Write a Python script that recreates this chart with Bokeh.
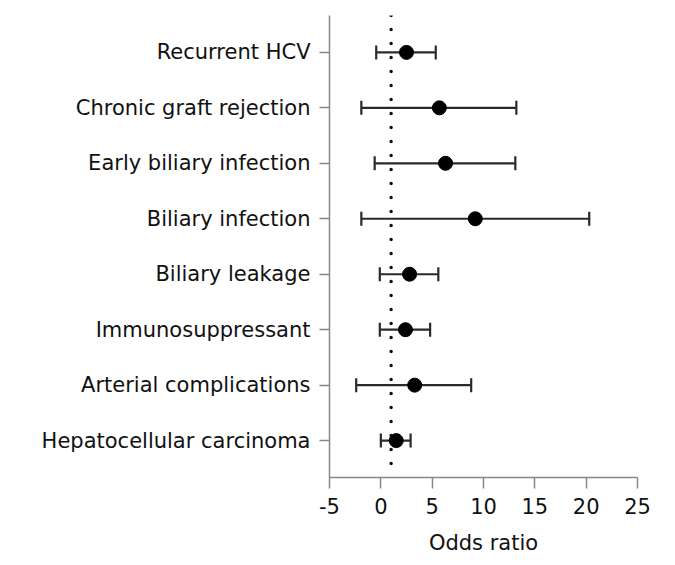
from bokeh.plotting import figure
from bokeh.models import ColumnDataSource, Whisker, TeeHead, Span, FixedTicker, Range1d
from bokeh.embed import file_html
from bokeh.resources import INLINE

categories = ["Recurrent HCV", "Chronic graft rejection", "Early biliary infection",
              "Biliary infection", "Biliary leakage", "Immunosuppressant",
              "Arterial complications", "Hepatocellular carcinoma"]
odds = [2.5, 5.7, 6.3, 9.2, 2.8, 2.4, 3.3, 1.5]
lower = [-0.45, -1.9, -0.6, -1.9, -0.1, -0.1, -2.4, 0.0]
upper = [5.35, 13.2, 13.1, 20.3, 5.6, 4.8, 8.8, 2.9]
x_ticks = [-5, 0, 5, 10, 15, 20, 25]
reference_value = 1

n = len(categories)
ypos = [n - i for i in range(n)]

src = ColumnDataSource(dict(y=ypos, odds=odds, lower=lower, upper=upper))

FONT = "DejaVu Sans"

p = figure(width=667, height=560, output_backend="svg", toolbar_location=None,
           x_range=Range1d(-5, 25), y_range=Range1d(0.335, n + 0.665),
           min_border_left=329, min_border_top=15, min_border_right=30, min_border_bottom=83)
p.outline_line_color = None
p.grid.visible = False
p.background_fill_color = "white"
p.border_fill_color = "white"

# reference line
p.add_layout(Span(location=reference_value, dimension="height", line_color="#111111",
                  line_width=3.5, line_dash="0 14", line_cap="round"))

w = Whisker(source=src, base="y", lower="lower", upper="upper", dimension="width",
            line_color="#2a2a2a", line_width=2.2,
            lower_head=TeeHead(size=14, line_color="#2a2a2a", line_width=2.2),
            upper_head=TeeHead(size=14, line_color="#2a2a2a", line_width=2.2))
p.add_layout(w)

p.scatter(x="odds", y="y", source=src, size=14, marker="circle",
          fill_color="black", line_color="black")

# x axis
p.xaxis.ticker = FixedTicker(ticks=x_ticks)
p.xaxis.major_label_overrides = {t: str(t) for t in x_ticks}
p.xaxis.minor_tick_line_color = None
p.xaxis.major_tick_in = 0
p.xaxis.major_tick_out = 11
p.xaxis.axis_line_color = "#888888"
p.xaxis.major_tick_line_color = "#888888"
p.xaxis.axis_line_width = 1.5
p.xaxis.major_tick_line_width = 1.5
p.xaxis.major_label_text_font = FONT
p.xaxis.major_label_text_font_size = "21px"
p.xaxis.major_label_text_color = "#111111"
p.xaxis.major_label_standoff = 9
p.xaxis.axis_label = "Odds ratio"
p.xaxis.axis_label_text_font = FONT
p.xaxis.axis_label_text_font_size = "21px"
p.xaxis.axis_label_text_font_style = "normal"
p.xaxis.axis_label_text_color = "#111111"
p.xaxis.axis_label_standoff = 14

# y axis
p.yaxis.ticker = FixedTicker(ticks=ypos)
p.yaxis.major_label_overrides = {y: c for y, c in zip(ypos, categories)}
p.yaxis.minor_tick_line_color = None
p.yaxis.major_tick_in = 0
p.yaxis.major_tick_out = 10
p.yaxis.axis_line_color = "#888888"
p.yaxis.major_tick_line_color = "#888888"
p.yaxis.axis_line_width = 1.5
p.yaxis.major_tick_line_width = 1.5
p.yaxis.major_label_text_font = FONT
p.yaxis.major_label_text_font_size = "21px"
p.yaxis.major_label_text_color = "#111111"
p.yaxis.major_label_standoff = 9

open("out.html", "w").write(file_html(p, INLINE))
